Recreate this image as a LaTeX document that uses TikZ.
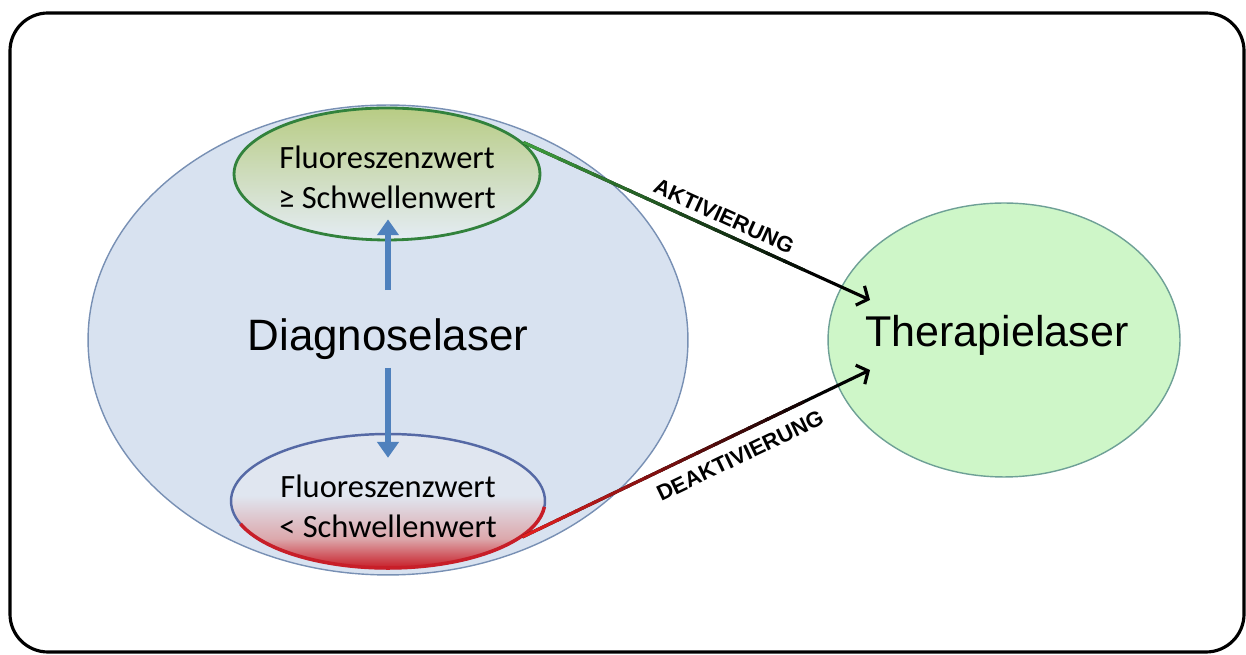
\documentclass[tikz,border=0pt]{standalone}
\usepackage{fontspec}
\setmainfont{Carlito}
\newfontfamily\arialfont{Liberation Sans}
\usetikzlibrary{shapes.geometric,arrows.meta,calc}

\definecolor{diagfill}{RGB}{216,226,240}
\definecolor{diagline}{RGB}{120,144,180}
\definecolor{hightop}{RGB}{184,204,132}
\definecolor{highbot}{RGB}{228,236,244}
\definecolor{highline}{RGB}{50,130,60}
\definecolor{lowtop}{RGB}{224,230,240}
\definecolor{lowmid}{RGB}{220,168,172}
\definecolor{lowred}{RGB}{200,30,40}
\definecolor{lowline}{RGB}{85,105,165}
\definecolor{therfill}{RGB}{206,246,200}
\definecolor{therline}{RGB}{110,160,150}
\definecolor{arrowblue}{RGB}{79,129,189}
\definecolor{akgreen}{RGB}{60,155,60}
\definecolor{deakred}{RGB}{225,30,30}

\pgfdeclareverticalshading{lowshade}{100bp}{color(0bp)=(lowred); color(25bp)=(lowred); color(36bp)=(lowmid); color(52bp)=(lowtop); color(100bp)=(lowtop)}

\begin{document}
\begin{tikzpicture}[x=0.02cm, y=0.02cm,
  oval/.style={ellipse, draw, inner sep=0pt},
  bluearrow/.style={-{Triangle[length=9pt,width=12pt]}, line width=3pt, arrowblue},
  laserarrow/.style={-{Straight Barb[length=5pt,width=12pt]}, line width=1.8pt},
  arrowlabel/.style={font=\arialfont\fontsize{12.5}{15}\selectfont\bfseries, sloped},
  smalltext/.style={align=center, inner sep=0pt, font=\fontsize{18.5}{22.7}\selectfont}]
  \useasboundingbox (0,0) rectangle (1246,655);
  \draw[line width=1.8pt, rounded corners=0.76cm] (10,3) rectangle (1244,642);

  % Diagnoselaser
  \node[oval, fill=diagfill, draw=diagline, line width=0.8pt, minimum width=12cm, minimum height=9.4cm] (diag) at (388,315) {};
  \node[font=\arialfont\fontsize{25}{30}\selectfont, inner sep=0pt] (dtext) at (388,316) {Diagnoselaser};

  \node[oval, top color=hightop, bottom color=highbot, draw=highline, line width=1.6pt, minimum width=6.12cm, minimum height=2.64cm] (fhigh) at (387,481) {};
  \node[smalltext] (htext) at (387,478) {Fluoreszenzwert\\ ≥ Schwellenwert};

  \node[oval, shading=lowshade, draw=lowline, line width=1.4pt, minimum width=6.28cm, minimum height=2.68cm] (flow) at (388,154) {};
  \draw[lowred, line width=2pt] ($(flow.center)+(200:3.14cm and 1.34cm)$) arc[start angle=200, end angle=355, x radius=3.14cm, y radius=1.34cm];
  \node[smalltext] (ltext) at (388,149) {Fluoreszenzwert\\ < Schwellenwert};

  \draw[bluearrow, shorten <=0.56cm, shorten >=-0.44cm] (dtext.north) -- (dtext.north |- fhigh.south);
  \draw[bluearrow, shorten <=0.16cm, shorten >=-0.5cm] (dtext.south) -- (dtext.south |- flow.north);

  % Therapielaser
  \node[oval, fill=therfill, draw=therline, line width=0.8pt, minimum width=7.04cm, minimum height=5.48cm] (ther) at (1004,315) {};
  \node[font=\arialfont\fontsize{24.5}{30}\selectfont, inner sep=0pt] (ttext) at (997,320) {Therapielaser};

  \coordinate (tipa) at ($(ther.center)+(-134,40)$);
  \coordinate (tipd) at ($(ther.center)+(-134,-30)$);

  \draw[laserarrow] (fhigh.13) -- (tipa);
  \foreach \i in {0,...,15} {
    \pgfmathtruncatemacro\mix{100-6*\i}
    \draw[line width=1.8pt, akgreen!\mix!black] ($(fhigh.13)!\i/20!(tipa)$) -- ($(fhigh.13)!\i/20+0.06!(tipa)$);
  }
  \draw[laserarrow] (flow.-15) -- (tipd);
  \foreach \i in {0,...,15} {
    \pgfmathtruncatemacro\mix{100-6*\i}
    \draw[line width=1.8pt, deakred!\mix!black] ($(flow.-15)!\i/20!(tipd)$) -- ($(flow.-15)!\i/20+0.06!(tipd)$);
  }

  \path (fhigh.13) -- (tipa) node[arrowlabel, pos=0.56, above=1pt] (aklabel) {AKTIVIERUNG};
  \path (flow.-15) -- (tipd) node[arrowlabel, pos=0.6, below=4pt] (deaklabel) {DEAKTIVIERUNG};
\end{tikzpicture}
\end{document}
